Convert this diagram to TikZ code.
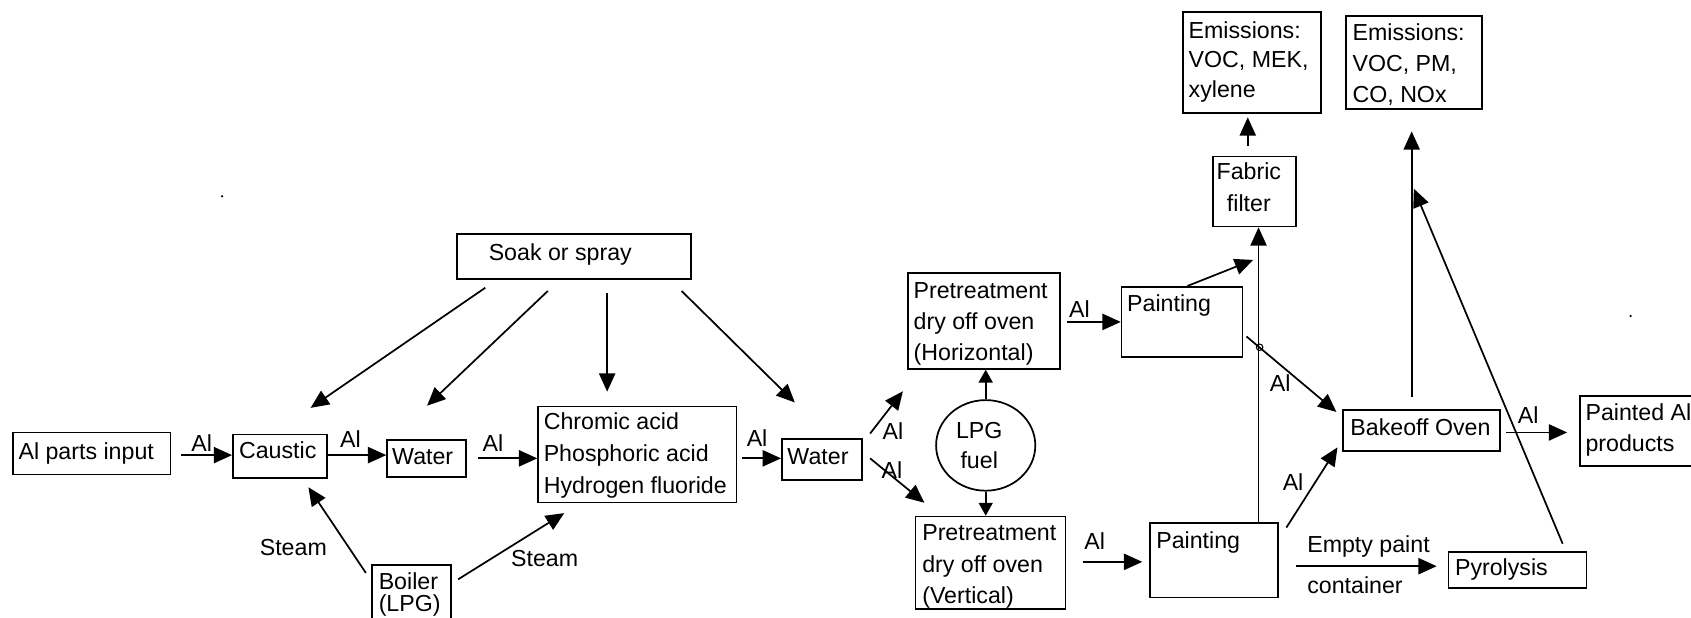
\documentclass[tikz,border=0pt]{standalone}
\usepackage{fontspec}
\setmainfont{Liberation Sans}
\usetikzlibrary{arrows.meta,calc,shapes.geometric}
\begin{document}
\begin{tikzpicture}[x=1pt,y=-1pt,
  font=\fontsize{21.5}{29}\selectfont,
  box/.style={draw,line width=1.6pt,rectangle,inner sep=0pt},
  txt/.style={inner sep=0pt,align=left,anchor=base west},
  lab/.style={inner sep=0pt,anchor=center},
  arr/.style={line width=1.6pt,-{Triangle[length=17pt,width=15pt]}},
  sarr/.style={line width=1.6pt,-{Triangle[length=12pt,width=13pt]}},
  ]
\useasboundingbox (0,0) rectangle (1568,573);
\clip (0,0) rectangle (1568,573);
% boxes
\node[box,minimum width=146,minimum height=39] (input) at (85,420.5) {};
\node[box,minimum width=87,minimum height=40] (caustic) at (259.5,423) {};
\node[box,minimum width=73,minimum height=34] (water1) at (395.5,425) {};
\node[box,minimum width=184,minimum height=89] (chromic) at (591,421.5) {};
\node[box,minimum width=74,minimum height=38] (water2) at (762,426) {};
\node[box,minimum width=217,minimum height=42] (soak) at (532.5,238) {};
\node[box,minimum width=73,minimum height=66] (boiler) at (381.5,557) {};
\node[box,minimum width=141,minimum height=89] (PH) at (912.5,297.5) {};
\node[box,minimum width=139,minimum height=86] (PV) at (918.5,522) {};
\node[box,minimum width=112,minimum height=65] (paint1) at (1096,298.5) {};
\node[box,minimum width=119,minimum height=69] (paint2) at (1125.5,519.5) {};
\node[box,minimum width=77,minimum height=65] (fabric) at (1163.5,177.5) {};
\node[box,minimum width=128,minimum height=94] (em1) at (1161,58) {};
\node[box,minimum width=126,minimum height=86] (em2) at (1311,58) {};
\node[box,minimum width=146,minimum height=38] (bake) at (1318,399) {};
\node[box,minimum width=115,minimum height=65] (painted) at (1522.5,399.5) {};
\node[box,minimum width=128,minimum height=33] (pyro) at (1407,528.5) {};
\node[draw,line width=1.6pt,ellipse,inner sep=0pt,minimum width=92,minimum height=84] (lpg) at (914,413) {};
% texts (base anchor = baseline of last line)
\node[txt] (t-input) at (17,426.5) {Al parts input};
\node[txt] (t-caustic) at (221.5,425.5) {Caustic};
\node[txt] (t-water1) at (363.5,431) {Water};
\node[txt,font=\fontsize{21.5}{29.5}\selectfont] (t-chromic) at (504,457.5) {Chromic acid\\Phosphoric acid\\Hydrogen fluoride};
\node[txt] (t-water2) at (730,431) {Water};
\node[txt] (t-soak) at (453,241.5) {Soak or spray};
\node[txt,font=\fontsize{21.5}{20}\selectfont] (t-boiler) at (351,567) {Boiler\\(LPG)};
\node[txt] (t-PH) at (847,334.5) {Pretreatment\\dry off oven\\(Horizontal)};
\node[txt] (t-PV) at (855,559.5) {Pretreatment\\dry off oven\\(Vertical)};
\node[txt] (t-paint1) at (1045,288.5) {Painting};
\node[txt] (t-paint2) at (1072,508.5) {Painting};
\node[txt,align=center,anchor=base,font=\fontsize{21.5}{30}\selectfont] (t-fabric) at (1158,196.5) {Fabric\\filter};
\node[txt,font=\fontsize{21.5}{27.5}\selectfont] (t-em1) at (1102,90.5) {Emissions:\\VOC, MEK,\\xylene};
\node[txt] (t-em2) at (1254,95.5) {Emissions:\\VOC, PM,\\CO, NOx};
\node[txt] (t-bake) at (1252,403.5) {Bakeoff Oven};
\node[txt] (t-painted) at (1470,418.5) {Painted Al\\products};
\node[txt] (t-pyro) at (1349,533.5) {Pyrolysis};
\node[txt,align=center,anchor=base,font=\fontsize{21.5}{28}\selectfont] (t-lpg) at (908,434.5) {LPG\\fuel};
% labels
\node[lab] (la) at (187,411) {Al};
\node[lab] (lb) at (325,407) {Al};
\node[lab] (lc) at (457,411) {Al};
\node[lab] (ld) at (702,406) {Al};
\node[lab] (lk) at (828,400) {Al};
\node[lab] (ll) at (827,436) {Al};
\node[lab] (lo) at (1001,287) {Al};
\node[lab] (lp) at (1015,502) {Al};
\node[lab] (lt) at (1187,355) {Al};
\node[lab] (lu) at (1199,447) {Al};
\node[lab] (lx) at (1417,385) {Al};
\node[lab] (ls1) at (272,508) {Steam};
\node[lab] (ls2) at (505,518) {Steam};
\node[txt] (le1) at (1212,512.5) {Empty paint};
\node[txt] (le2) at (1212,550.5) {container};
% free ends
\coordinate (qend) at (1162,241);
\coordinate (wend) at (1311,175);
% connectors
\draw[arr] ($(input.east)+(9,1.5)$) -- ($(caustic.west)+(0,-1)$);
\draw[arr] ($(caustic.east)+(0,-1)$) -- ($(water1.west)+(0,-3)$);
\draw[arr] ($(water1.east)+(10,0)$) -- ($(chromic.west)+(0,3.5)$);
\draw[arr] ($(chromic.east)+(4,3.5)$) -- ($(water2.west)+(0,-1)$);
\draw[arr] ($(soak.south)+(-82.5,7)$) -- ($(caustic.north)+(28.5,-24)$);
\draw[arr] ($(soak.south)+(-24.5,10)$) -- ($(water1.north)+(0.5,-31)$);
\draw[arr] ($(soak.south)+(30.5,12)$) -- ($(chromic.north)+(-28,-13)$);
\draw[arr] ($(soak.south)+(99.5,10)$) -- ($(water2.north)+(-25,-33)$);
\draw[arr] ($(boiler.north west)+(-5,8)$) -- ($(caustic.south)+(26.5,8)$);
\draw[arr] ($(boiler.north east)+(6,14)$) -- ($(chromic.south west)+(25,9)$);
\draw[arr] ($(water2.east)+(7,-24)$) -- ($(PH.south west)+(-4,20)$);
\draw[arr] ($(water2.east)+(7,-1)$) -- ($(PV.north west)+(9,-12)$);
\draw[sarr] (lpg.north) -- (lpg.north |- PH.south);
\draw[sarr] (lpg.south) -- (lpg.south |- PV.north);
\draw[arr] ($(PH.east)+(6,1)$) -- (paint1.west);
\draw[arr] ($(PV.east)+(15,-1)$) -- ($(paint2.west)+(-6,1.5)$);
\draw[arr] ($(paint1.north)+(5,0)$) -- (qend);
\draw[arr] ($(paint2.north)+(41.5,0)$) -- ($(fabric.south)+(3.5,0)$);
\draw[arr] ($(fabric.north)+(-6.5,-9)$) -- ($(em1.south)+(-4,3)$);
\draw[arr] ($(paint1.east)+(3,13.5)$) -- ($(bake.west)+(-5,-17)$);
\draw[arr] ($(paint2.north east)+(7,5)$) -- ($(bake.south west)+(-4,-4)$);
\draw[arr] ($(bake.north)+(-9,-11)$) -- ($(em2.south)+(-2,20)$);
\draw[arr] ($(pyro.north)+(42,-7)$) -- (wend);
\draw[arr] ($(bake.east)+(5,2)$) -- ($(painted.west)+(-11,1.5)$);
\draw[arr] ($(paint2.east)+(16,5.5)$) -- ($(pyro.west)+(-10,-3.5)$);
% crossing mark
\node[draw,circle,line width=1pt,inner sep=0pt,minimum size=6pt] (hop) at (1168,322) {};
% stray dots
\fill (206,182) circle (1.2);
\fill (1512,293) circle (1.2);
\end{tikzpicture}
\end{document}
